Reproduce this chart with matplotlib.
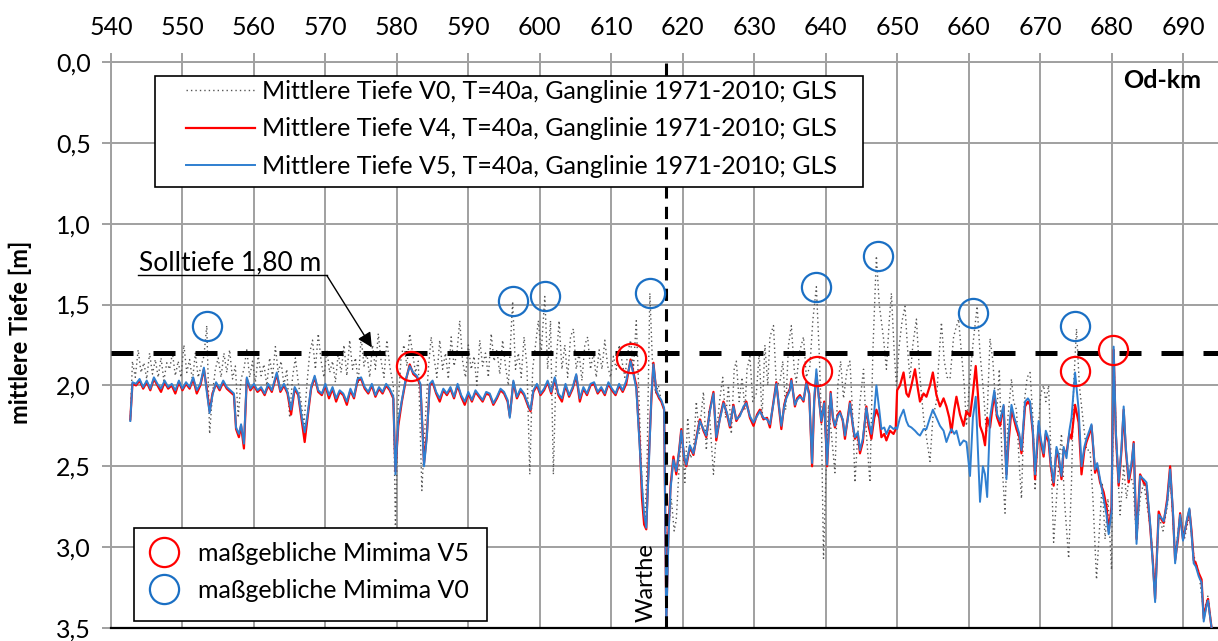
import matplotlib.pyplot as plt
from matplotlib.patches import Rectangle

# shared stationing for V4 / V5 (Od-km) and mean depths [m]
km = [542.7, 543.0, 543.5, 544.0, 544.5, 545.0, 545.5, 546.0, 546.5, 547.0,
      547.5, 548.0, 548.5, 549.0, 549.5, 550.0, 550.5, 551.0, 551.5, 552.0,
      552.5, 553.0, 553.4, 553.8, 554.2, 554.7, 555.2, 555.7, 556.2, 556.7,
      557.2, 557.5, 557.9, 558.2, 558.6, 559.0, 559.5, 560.0, 560.5, 561.0,
      561.5, 562.0, 562.5, 563.2, 563.7, 564.2, 564.7, 565.2, 565.7, 566.2,
      566.7, 567.1, 567.5, 568.0, 568.5, 569.0, 569.5, 570.0, 570.5, 571.0,
      571.5, 572.0, 572.5, 573.0, 573.5, 574.0, 574.5, 575.0, 575.5, 576.0,
      576.5, 577.0, 577.5, 578.0, 578.5, 579.0, 579.5, 579.8, 580.2, 580.7,
      581.2, 581.8, 582.3, 582.8, 583.3, 583.8, 584.2, 584.6, 585.0, 585.5,
      586.0, 586.5, 587.0, 587.5, 588.0, 588.5, 589.0, 589.5, 590.0, 590.5,
      591.0, 591.5, 592.0, 592.5, 593.0, 593.5, 594.0, 594.5, 595.0, 595.5,
      595.8, 596.3, 596.8, 597.3, 597.8, 598.3, 598.7, 599.1, 599.6, 600.1,
      600.6, 601.1, 601.6, 602.1, 602.6, 603.1, 603.6, 604.1, 604.6, 605.1,
      605.6, 606.1, 606.6, 607.1, 607.6, 608.1, 608.6, 609.1, 609.6, 610.1,
      610.6, 611.1, 611.6, 612.1, 612.7, 613.1, 613.5, 614.0, 614.3, 614.6,
      614.9, 615.3, 615.6, 615.9, 616.3, 616.7, 617.0, 617.4, 617.7, 618.0,
      618.3, 618.7, 619.1, 619.5, 619.8, 620.2, 620.5, 621.0, 621.5, 622.0,
      622.4, 622.9, 623.3, 623.8, 624.3, 624.7, 625.2, 625.7, 626.2, 626.6,
      627.1, 627.5, 628.0, 628.5, 628.9, 629.4, 629.9, 630.4, 630.8, 631.3,
      631.8, 632.2, 632.7, 633.1, 633.5, 633.8, 634.2, 634.5, 635.0, 635.2,
      635.7, 636.0, 636.4, 636.9, 637.3, 637.7, 638.1, 638.4, 638.7, 639.0,
      639.4, 639.8, 640.2, 640.7, 641.0, 641.3, 641.7, 642.0, 642.4, 642.7,
      643.1, 643.4, 643.8, 644.1, 644.5, 644.8, 645.2, 645.7, 646.0, 646.4,
      646.8, 647.1, 647.5, 647.8, 648.2, 648.5, 649.0, 649.5, 649.8, 650.0,
      650.4, 650.9, 651.3, 651.6, 652.0, 652.5, 652.9, 653.2, 653.7, 654.1,
      654.6, 655.0, 655.5, 656.0, 656.5, 656.9, 657.3, 657.6, 658.0, 658.3,
      658.8, 659.3, 659.7, 660.2, 660.6, 661.0, 661.3, 661.6, 662.0, 662.3,
      662.6, 663.0, 663.6, 664.0, 664.4, 664.9, 665.3, 665.6, 666.0, 666.4,
      666.7, 667.1, 667.4, 667.9, 668.3, 668.6, 669.0, 669.3, 669.8, 670.1,
      670.5, 670.8, 671.2, 671.5, 671.9, 672.3, 672.6, 673.0, 673.3, 673.7,
      674.1, 674.4, 674.9, 675.4, 675.8, 676.2, 676.5, 676.9, 677.2, 677.7,
      678.0, 678.4, 678.9, 679.3, 679.6, 680.0, 680.3, 680.6, 681.0, 681.4,
      681.7, 682.0, 682.4, 682.8, 683.1, 683.5, 684.0, 684.5, 684.9, 685.4,
      685.8, 686.1, 686.6, 687.0, 687.3, 687.8, 688.2, 688.6, 688.9, 689.3,
      689.6, 690.0, 690.5, 690.9, 691.2, 691.5, 691.8, 692.2, 692.6, 692.9,
      693.3, 693.5, 694.0]

tiefe_v4 = [2.21, 1.99, 2.00, 1.97, 2.02, 1.98, 2.03, 1.96, 2.00, 2.04,
            1.98, 2.02, 2.00, 2.05, 1.98, 2.03, 1.99, 2.02, 1.96, 2.05,
            2.00, 1.90, 2.02, 2.16, 2.05, 1.99, 2.03, 1.98, 2.02, 2.04,
            2.06, 2.27, 2.32, 2.25, 2.39, 1.96, 2.03, 2.00, 2.04, 2.02,
            2.06, 2.00, 2.04, 1.93, 2.04, 2.00, 2.05, 2.18, 2.02, 2.06,
            2.22, 2.35, 2.20, 2.02, 1.95, 2.04, 2.06, 2.00, 2.08, 2.02,
            2.10, 2.04, 2.06, 2.12, 2.03, 2.08, 1.97, 1.96, 2.02, 2.05,
            2.00, 2.07, 2.02, 2.05, 2.00, 2.03, 2.08, 2.53, 2.25, 2.10,
            1.98, 1.87, 1.93, 1.95, 2.00, 2.48, 2.30, 2.00, 1.98, 2.05,
            2.10, 2.03, 2.06, 2.02, 2.08, 2.00, 2.07, 2.12, 2.05, 2.10,
            2.04, 2.07, 2.10, 2.05, 2.06, 2.12, 2.08, 2.03, 2.05, 2.10,
            2.19, 1.98, 2.08, 2.03, 2.06, 2.12, 2.16, 2.04, 2.00, 2.06,
            2.03, 1.98, 2.05, 1.96, 2.06, 2.10, 2.00, 2.07, 2.02, 1.94,
            2.10, 2.02, 2.06, 2.00, 1.99, 2.05, 2.02, 2.06, 1.99, 2.03,
            2.06, 2.00, 2.04, 1.99, 1.84, 1.92, 2.00, 2.37, 2.70, 2.86,
            2.89, 2.40, 2.10, 1.86, 2.04, 2.08, 2.10, 2.15, 3.45, 2.90,
            2.62, 2.44, 2.55, 2.40, 2.27, 2.45, 2.50, 2.38, 2.43, 2.30,
            2.21, 2.28, 2.32, 2.15, 2.04, 2.34, 2.20, 2.10, 2.18, 2.26,
            2.12, 2.22, 2.18, 2.14, 2.10, 2.20, 2.25, 2.18, 2.15, 2.21,
            2.20, 2.26, 2.10, 1.98, 2.15, 2.27, 2.12, 2.07, 2.02, 1.96,
            2.13, 2.08, 2.06, 2.10, 1.98, 2.05, 2.50, 2.10, 1.93, 2.05,
            2.23, 2.10, 2.50, 2.04, 2.20, 2.26, 2.18, 2.16, 2.22, 2.33,
            2.20, 2.10, 2.25, 2.33, 2.30, 2.42, 2.35, 2.13, 2.25, 2.33,
            2.20, 2.15, 2.20, 2.32, 2.30, 2.34, 2.28, 2.30, 2.27, 2.03,
            2.00, 1.92, 2.05, 2.07, 2.00, 1.90, 2.02, 2.10, 2.05, 2.07,
            2.00, 1.92, 2.06, 2.13, 2.08, 2.13, 2.20, 2.29, 2.15, 2.07,
            2.18, 2.25, 2.16, 2.19, 2.05, 1.88, 2.05, 2.25, 2.30, 2.37,
            2.20, 2.26, 2.05, 2.20, 2.25, 2.13, 2.55, 2.35, 2.15, 2.22,
            2.27, 2.32, 2.42, 2.13, 2.10, 2.12, 2.30, 2.58, 2.25, 2.35,
            2.44, 2.30, 2.35, 2.50, 2.62, 2.40, 2.45, 2.58, 2.40, 2.42,
            2.30, 2.33, 2.12, 2.23, 2.55, 2.40, 2.35, 2.30, 2.25, 2.54,
            2.50, 2.60, 2.66, 2.75, 2.90, 2.75, 1.78, 2.30, 2.62, 2.40,
            2.15, 2.40, 2.60, 2.50, 2.35, 2.95, 2.55, 2.60, 2.62, 2.87,
            3.10, 3.32, 2.78, 2.83, 2.85, 2.70, 2.50, 2.80, 3.08, 2.95,
            2.79, 2.95, 2.85, 2.77, 2.90, 3.08, 3.10, 3.16, 3.20, 3.44,
            3.35, 3.32, 3.50]

tiefe_v5 = [2.22, 1.98, 1.99, 1.96, 2.01, 1.97, 2.02, 1.95, 1.99, 2.02,
            1.97, 2.01, 1.99, 2.03, 1.97, 2.02, 1.98, 2.01, 1.95, 2.03,
            1.99, 1.89, 2.04, 2.17, 2.06, 1.98, 2.02, 1.97, 2.01, 2.03,
            2.05, 2.26, 2.30, 2.24, 2.36, 1.95, 2.02, 1.99, 2.03, 2.01,
            2.05, 1.99, 2.03, 1.92, 2.03, 1.99, 2.04, 2.15, 2.01, 2.05,
            2.20, 2.29, 2.18, 2.01, 1.94, 2.03, 2.05, 1.99, 2.06, 2.01,
            2.08, 2.03, 2.05, 2.10, 2.02, 2.07, 1.96, 1.95, 2.01, 2.04,
            1.99, 2.06, 2.01, 2.04, 1.99, 2.02, 2.07, 2.55, 2.22, 2.09,
            1.97, 1.88, 1.92, 1.94, 1.99, 2.50, 2.32, 1.99, 1.97, 2.04,
            2.08, 2.02, 2.05, 2.01, 2.07, 1.99, 2.06, 2.10, 2.04, 2.09,
            2.03, 2.06, 2.09, 2.04, 2.05, 2.11, 2.07, 2.02, 2.04, 2.09,
            2.20, 1.97, 2.07, 2.02, 2.05, 2.11, 2.15, 2.03, 1.99, 2.05,
            2.02, 1.97, 2.04, 1.95, 2.05, 2.08, 1.99, 2.06, 2.01, 1.93,
            2.08, 2.01, 2.05, 1.99, 1.98, 2.04, 2.01, 2.05, 1.98, 2.02,
            2.05, 1.99, 2.03, 1.97, 1.85, 1.93, 2.02, 2.40, 2.62, 2.80,
            2.88, 2.45, 2.08, 1.87, 2.03, 2.07, 2.09, 2.14, 3.50, 2.95,
            2.64, 2.46, 2.53, 2.41, 2.28, 2.44, 2.49, 2.37, 2.42, 2.31,
            2.22, 2.27, 2.31, 2.16, 2.05, 2.32, 2.21, 2.11, 2.17, 2.25,
            2.13, 2.21, 2.19, 2.13, 2.11, 2.19, 2.23, 2.19, 2.16, 2.20,
            2.21, 2.24, 2.11, 1.99, 2.14, 2.25, 2.13, 2.08, 2.03, 1.97,
            2.12, 2.09, 2.07, 2.09, 1.99, 2.06, 2.48, 2.08, 1.90, 2.06,
            2.22, 2.11, 2.49, 2.05, 2.19, 2.25, 2.19, 2.17, 2.21, 2.31,
            2.21, 2.11, 2.24, 2.32, 2.29, 2.40, 2.33, 2.14, 2.22, 2.30,
            2.16, 2.00, 2.15, 2.27, 2.26, 2.30, 2.25, 2.27, 2.26, 2.27,
            2.20, 2.15, 2.22, 2.25, 2.26, 2.28, 2.30, 2.31, 2.27, 2.27,
            2.20, 2.15, 2.20, 2.25, 2.28, 2.35, 2.30, 2.27, 2.30, 2.28,
            2.37, 2.34, 2.35, 2.56, 2.20, 2.07, 2.40, 2.72, 2.50, 2.55,
            2.69, 2.20, 2.03, 2.18, 2.22, 2.12, 2.58, 2.30, 2.12, 2.20,
            2.24, 2.30, 2.40, 2.10, 2.08, 2.10, 2.28, 2.55, 2.22, 2.33,
            2.42, 2.28, 2.33, 2.48, 2.60, 2.38, 2.43, 2.56, 2.38, 2.45,
            2.28, 2.20, 1.92, 2.15, 2.50, 2.38, 2.33, 2.28, 2.24, 2.52,
            2.48, 2.58, 2.70, 2.80, 2.92, 2.78, 1.76, 2.28, 2.60, 2.38,
            2.13, 2.38, 2.58, 2.48, 2.36, 2.98, 2.56, 2.58, 2.60, 2.85,
            3.12, 3.34, 2.80, 2.82, 2.84, 2.72, 2.52, 2.78, 3.10, 2.93,
            2.80, 2.96, 2.84, 2.76, 2.92, 3.10, 3.12, 3.18, 3.22, 3.46,
            3.36, 3.33, 3.50]

# V0 (dotted) has its own stationing
km_v0 = [542.7, 543.0, 543.4, 543.8, 544.2, 544.6, 545.0, 545.4, 545.8, 546.2,
         546.6, 547.0, 547.4, 547.8, 548.2, 548.6, 549.0, 549.4, 549.8, 550.2,
         550.6, 551.0, 551.4, 551.8, 552.2, 552.6, 553.0, 553.4, 553.8, 554.2,
         554.6, 555.0, 555.4, 555.8, 556.2, 556.6, 557.0, 557.4, 557.8, 558.2,
         558.6, 559.0, 559.4, 559.8, 560.2, 560.6, 561.0, 561.4, 561.8, 562.2,
         562.6, 563.0, 563.4, 563.8, 564.2, 564.6, 565.0, 565.4, 565.8, 566.2,
         566.6, 567.0, 567.4, 567.8, 568.2, 568.6, 569.0, 569.4, 569.8, 570.2,
         570.6, 571.0, 571.4, 571.8, 572.2, 572.6, 573.0, 573.4, 573.8, 574.2,
         574.6, 575.0, 575.4, 575.8, 576.2, 576.6, 577.0, 577.4, 577.8, 578.2,
         578.6, 579.0, 579.5, 579.8, 580.2, 580.6, 581.0, 581.4, 581.8, 582.2,
         582.6, 583.0, 583.5, 584.0, 584.4, 584.8, 585.2, 585.6, 586.0, 586.4,
         586.8, 587.2, 587.6, 588.0, 588.4, 588.8, 589.2, 589.6, 590.0, 590.4,
         590.8, 591.2, 591.6, 592.0, 592.4, 592.8, 593.2, 593.6, 594.0, 594.4,
         594.8, 595.2, 595.6, 596.2, 596.6, 597.0, 597.4, 597.8, 598.2, 598.6,
         599.0, 599.4, 599.8, 600.2, 600.7, 601.1, 601.5, 601.9, 602.3, 602.7,
         603.1, 603.5, 603.9, 604.3, 604.7, 605.1, 605.5, 605.9, 606.3, 606.7,
         607.1, 607.5, 607.9, 608.3, 608.7, 609.1, 609.5, 609.9, 610.3, 610.7,
         611.1, 611.5, 611.9, 612.3, 612.7, 613.1, 613.5, 613.9, 614.3, 614.7,
         615.0, 615.4, 615.8, 616.2, 616.6, 617.0, 617.4, 617.7, 618.0, 618.4,
         618.8, 619.1, 619.5, 619.9, 620.3, 620.7, 621.1, 621.5, 621.9, 622.3,
         622.9, 623.3, 623.7, 624.3, 624.7, 625.2, 625.6, 626.0, 626.4, 626.8,
         627.2, 627.5, 627.9, 628.3, 628.7, 629.0, 629.4, 629.8, 630.3, 630.7,
         631.1, 631.5, 631.9, 632.2, 632.7, 633.1, 633.6, 634.0, 634.4, 634.8,
         635.2, 635.6, 635.9, 636.3, 636.9, 637.3, 637.8, 638.2, 638.7, 639.1,
         639.4, 639.7, 640.0, 640.4, 640.8, 641.3, 641.7, 642.1, 642.5, 643.0,
         643.4, 643.8, 644.1, 644.5, 644.8, 645.3, 645.7, 646.2, 646.6, 647.1,
         647.5, 648.1, 648.5, 648.9, 649.2, 649.6, 649.9, 650.3, 650.7, 651.1,
         651.5, 651.8, 652.2, 652.7, 653.1, 653.7, 654.2, 654.6, 655.0, 655.5,
         655.9, 656.2, 656.6, 657.0, 657.4, 657.9, 658.2, 658.6, 659.0, 659.4,
         659.7, 660.1, 660.6, 661.2, 661.6, 662.1, 662.5, 663.0, 663.4, 663.9,
         664.3, 664.7, 665.1, 665.5, 666.0, 666.3, 666.7, 667.1, 667.4, 667.8,
         668.2, 668.6, 669.0, 669.3, 669.7, 670.1, 670.5, 670.8, 671.2, 671.5,
         671.9, 672.3, 672.6, 673.0, 673.4, 674.0, 674.4, 674.7, 675.1, 675.5,
         676.1, 676.5, 677.0, 677.4, 677.9, 678.3, 678.7, 679.1, 679.5, 680.0,
         680.3, 680.7, 681.2, 681.7, 682.1, 682.5, 683.0, 683.5, 684.0, 684.5,
         685.0, 685.5, 686.1, 686.6, 687.2, 687.8, 688.2, 688.9, 689.6, 690.2,
         690.9, 691.5, 692.2, 692.9, 693.5, 694.0]

tiefe_v0 = [2.22, 1.85, 1.95, 1.78, 1.92, 1.86, 1.96, 1.80, 1.93, 1.84,
            1.95, 1.83, 1.97, 1.86, 1.90, 1.80, 1.94, 1.85, 1.95, 1.75,
            1.92, 1.84, 1.97, 1.80, 1.95, 1.88, 1.82, 1.63, 2.30, 2.05,
            1.90, 1.83, 1.95, 1.80, 1.92, 1.78, 1.96, 1.88, 2.20, 1.96,
            1.90, 1.78, 1.95, 1.85, 1.98, 1.82, 1.94, 1.87, 2.00, 1.83,
            1.95, 1.76, 1.92, 1.85, 2.00, 1.90, 2.20, 1.95, 1.83, 1.98,
            2.10, 2.25, 2.00, 1.80, 1.72, 1.90, 1.68, 1.85, 1.95, 1.78,
            1.92, 1.85, 1.98, 1.80, 1.92, 1.75, 1.94, 1.72, 1.90, 1.83,
            1.98, 1.70, 1.88, 1.80, 1.95, 1.75, 1.90, 1.68, 1.85, 1.95,
            1.72, 1.88, 2.00, 2.90, 2.10, 1.82, 1.75, 1.88, 1.68, 1.80,
            1.92, 1.85, 2.65, 2.20, 1.90, 1.70, 1.83, 1.95, 1.72, 1.90,
            1.80, 1.96, 1.70, 1.88, 1.80, 1.60, 1.85, 1.95, 1.75, 1.90,
            1.82, 2.00, 1.72, 1.88, 1.80, 1.95, 1.68, 1.85, 1.78, 1.93,
            1.72, 1.88, 2.00, 1.48, 1.90, 1.80, 1.95, 1.70, 1.88, 2.55,
            1.90, 1.75, 1.60, 1.80, 1.45, 1.90, 1.60, 2.55, 1.85, 1.60,
            1.90, 1.75, 1.95, 1.70, 1.65, 1.90, 1.80, 1.97, 1.75, 1.70,
            1.90, 1.80, 1.95, 1.78, 1.90, 1.72, 1.88, 1.95, 1.82, 1.90,
            1.75, 1.85, 1.95, 1.80, 1.72, 1.90, 1.60, 2.10, 2.60, 2.85,
            2.50, 1.43, 1.90, 2.05, 2.00, 2.10, 2.15, 3.20, 2.90, 2.70,
            2.90, 2.83, 2.50, 2.30, 2.60, 2.20, 2.45, 2.40, 2.10, 2.30,
            2.04, 2.40, 2.15, 2.55, 2.30, 2.08, 1.95, 2.20, 2.00, 2.30,
            1.90, 1.85, 2.10, 1.95, 2.15, 1.90, 1.82, 2.10, 2.05, 1.80,
            2.20, 1.75, 2.00, 1.70, 1.63, 2.00, 1.98, 1.85, 2.15, 1.75,
            1.63, 1.90, 1.98, 1.80, 1.70, 1.95, 1.88, 1.60, 1.39, 1.80,
            2.20, 3.07, 2.60, 2.12, 2.30, 2.54, 2.00, 1.85, 2.08, 1.90,
            1.85, 2.20, 2.60, 2.30, 2.10, 1.90, 2.30, 2.60, 1.80, 1.20,
            1.50, 1.71, 1.90, 1.60, 1.43, 1.80, 2.00, 1.75, 1.60, 1.51,
            1.80, 1.96, 1.75, 1.59, 1.90, 2.20, 2.35, 2.47, 2.20, 2.10,
            1.80, 1.61, 1.85, 1.95, 1.96, 1.70, 1.65, 1.59, 1.80, 2.00,
            2.25, 2.00, 1.75, 1.51, 1.80, 2.05, 2.30, 1.71, 1.85, 2.20,
            1.90, 2.50, 2.79, 2.20, 1.96, 2.10, 2.15, 2.50, 2.70, 2.10,
            1.95, 1.92, 2.20, 2.65, 2.30, 2.05, 2.00, 2.10, 2.00, 2.40,
            2.97, 2.70, 2.50, 2.30, 2.70, 3.07, 2.60, 2.00, 1.65, 2.00,
            2.25, 2.40, 2.40, 2.70, 3.20, 2.90, 2.60, 2.95, 2.70, 3.14,
            1.78, 2.40, 2.80, 2.50, 2.70, 2.55, 2.60, 2.95, 2.70, 2.60,
            2.75, 2.90, 3.30, 2.80, 2.90, 2.75, 2.55, 3.05, 2.80, 2.95,
            2.80, 3.05, 3.15, 3.40, 3.30, 3.50]

# marked minima
km_min_v5 = [582.0, 612.8, 638.8, 674.9, 680.2]
tiefe_min_v5 = [1.88, 1.83, 1.91, 1.91, 1.78]
km_min_v0 = [553.4, 596.2, 600.7, 615.4, 638.6, 647.3, 660.6, 674.9]
tiefe_min_v0 = [1.63, 1.48, 1.45, 1.43, 1.39, 1.20, 1.55, 1.635]

solltiefe = 1.80
warthe_km = 617.6
x_ticks = list(range(540, 700, 10))
y_ticks = [0.0, 0.5, 1.0, 1.5, 2.0, 2.5, 3.0, 3.5]
y_ticklabels = ["0,0", "0,5", "1,0", "1,5", "2,0", "2,5", "3,0", "3,5"]

assert len(km) == len(tiefe_v4) == len(tiefe_v5)
assert len(km_v0) == len(tiefe_v0)

plt.rcParams['font.family'] = ['Lato', 'DejaVu Sans']
grid_col = '#a0a0a0'
red = '#ff0000'
blue = '#2f7fd0'

fig = plt.figure(figsize=(12.18, 6.41), dpi=100)
ax = fig.add_axes([111 / 1218, 1 - 628 / 641, 1107 / 1218, 566 / 641])

l0, = ax.plot(km_v0, tiefe_v0, color='#555555', lw=1.0, ls=(0, (1, 2.2)), zorder=3)
l4, = ax.plot(km, tiefe_v4, color=red, lw=1.6, zorder=4)
l5, = ax.plot(km, tiefe_v5, color=blue, lw=1.4, zorder=5)

ax.axhline(solltiefe, color='black', lw=3.6, ls=(0, (4.4, 4.0)), zorder=6)
ax.axvline(warthe_km, color='black', lw=2.2, ls=(0, (4.0, 2.7)), zorder=6)

c5, = ax.plot(km_min_v5, tiefe_min_v5, ls='none', marker='o', ms=21, mfc='none',
              mec=red, mew=1.6, zorder=7)
c0, = ax.plot(km_min_v0, tiefe_min_v0, ls='none', marker='o', ms=21, mfc='none',
              mec='#1a6fc4', mew=1.6, zorder=7)

# axes styling (Excel look)
ax.set_xlim(540, 694.9)
ax.set_ylim(3.5, 0.0)
ax.set_xticks(x_ticks)
ax.set_yticks(y_ticks)
ax.set_yticklabels(y_ticklabels)
ax.xaxis.tick_top()
ax.tick_params(axis='both', length=6.5, width=1.4, color=grid_col, labelsize=18)
ax.tick_params(axis='x', pad=10)
ax.tick_params(axis='y', pad=8)
ax.grid(True, color=grid_col, lw=1.4, zorder=0)
ax.set_axisbelow(True)
for s in ['left', 'top']:
    ax.spines[s].set_color(grid_col)
    ax.spines[s].set_linewidth(1.4)
ax.spines['right'].set_visible(False)
ax.spines['bottom'].set_color('black')
ax.spines['bottom'].set_linewidth(1.6)

ax.set_ylabel('mittlere Tiefe [m]', fontsize=17, fontweight='bold')
ax.yaxis.set_label_coords(-0.071, 0.523)

ax.text(0.9846, 0.967, 'Od-km', transform=ax.transAxes, ha='right', va='center',
        fontsize=18, fontweight='bold')

# Solltiefe annotation
ax.text(556.6, 1.24, 'Solltiefe 1,80 m', ha='center', va='center', fontsize=19)
ax.plot([543.8, 570.2], [1.32, 1.32], color='black', lw=1.0, zorder=6)
ax.annotate('', xy=(576.5, 1.765), xytext=(570.2, 1.32),
            arrowprops=dict(arrowstyle='-|>', color='black', lw=1.0,
                            mutation_scale=22, shrinkA=0, shrinkB=0), zorder=6)

ax.text(614.9, 3.22, 'Warthe', rotation=90, ha='center', va='center', fontsize=17)

# legend boxes drawn as plain rectangles (Excel-like padding)
ax.add_patch(Rectangle((0.0397, 0.7792), 0.6396, 0.1961, transform=ax.transAxes,
                       facecolor='white', edgecolor='black', lw=1.2, zorder=9))
ax.add_patch(Rectangle((0.0208, 0.0124), 0.3189, 0.1643, transform=ax.transAxes,
                       facecolor='white', edgecolor='black', lw=1.2, zorder=9))

leg1 = ax.legend([l0, l4, l5],
                 ['Mittlere Tiefe V0, T=40a, Ganglinie 1971-2010; GLS',
                  'Mittlere Tiefe V4, T=40a, Ganglinie 1971-2010; GLS',
                  'Mittlere Tiefe V5, T=40a, Ganglinie 1971-2010; GLS'],
                 loc='upper left', bbox_to_anchor=(0.0678, 0.968), fontsize=18,
                 handlelength=2.76, handletextpad=0.28, labelspacing=0.57,
                 borderpad=0, borderaxespad=0, frameon=False)
leg1.set_zorder(10)
ax.add_artist(leg1)

leg2 = ax.legend([c5, c0], ['maßgebliche Mimima V5', 'maßgebliche Mimima V0'],
                 loc='upper left', bbox_to_anchor=(0.032, 0.152), fontsize=18,
                 handlelength=1.4, handletextpad=0.66, labelspacing=0.57,
                 borderpad=0, borderaxespad=0, frameon=False)
leg2.set_zorder(10)

fig.savefig('out.png', dpi=100)
